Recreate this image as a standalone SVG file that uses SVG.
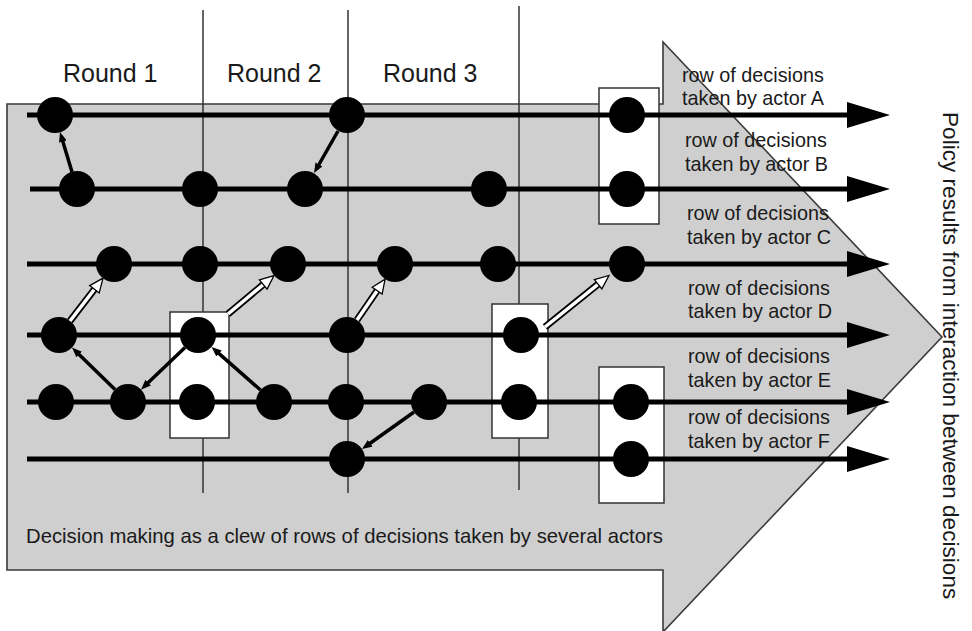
<svg xmlns="http://www.w3.org/2000/svg" width="972" height="631" viewBox="0 0 972 631">
<style>
text{font-family:"Liberation Sans",Arial,sans-serif;fill:#1a1a1a}
.round{font-size:25px}
.lbl{font-size:19.8px}
.vline{stroke:#333;stroke-width:1.5;fill:none}
.box{fill:#fff;stroke:#333;stroke-width:1.5}
.row{stroke:#000;stroke-width:5;fill:none;marker-end:url(#rowHead)}
.dec{fill:#000}
.blk{stroke:#000;stroke-width:3.5;fill:none;marker-end:url(#blkHead)}
.wOut{stroke:#000;stroke-width:7;fill:none}
.wIn{stroke:#fff;stroke-width:3.5;fill:none;marker-end:url(#whtHead)}
</style>
<defs>
<marker id="rowHead" viewBox="0 0 43 26" markerWidth="43" markerHeight="26" refX="3" refY="13" orient="auto" markerUnits="userSpaceOnUse"><path d="M0,0 L43,13 L0,26 Z" fill="#000"/></marker>
<marker id="blkHead" viewBox="0 0 10 8" markerWidth="10" markerHeight="8" refX="3" refY="4" orient="auto" markerUnits="userSpaceOnUse"><path d="M0,0 L10,4 L0,8 Z" fill="#000"/></marker>
<marker id="whtHead" viewBox="0 0 16 14" markerWidth="16" markerHeight="14" refX="6" refY="7" orient="auto" markerUnits="userSpaceOnUse"><path d="M1,1 L15,7 L1,13 Z" fill="#fff" stroke="#000" stroke-width="1.3"/></marker>
</defs>

<g id="big-arrow">
<path d="M7,104 L663,104 L663,42 L942,337 L663,632 L663,570 L7,570 Z" fill="#cfcfcf" stroke="#3a3a3a" stroke-width="1.6"/>
</g>

<g id="round-lines">
<line class="vline" x1="203" y1="10" x2="203" y2="493"/>
<line class="vline" x1="348" y1="10" x2="348" y2="493"/>
<line class="vline" x1="519" y1="6" x2="519" y2="490"/>
</g>

<g id="round-labels">
<text class="round" x="63" y="82">Round 1</text>
<text class="round" x="227" y="82">Round 2</text>
<text class="round" x="383" y="82">Round 3</text>
</g>

<g id="boxes">
<rect id="box-AB" class="box" x="599" y="88" width="60" height="136"/>
<rect id="box-DE-2" class="box" x="170" y="312" width="59" height="126"/>
<rect id="box-DE-3" class="box" x="492" y="304" width="56" height="134"/>
<rect id="box-EF" class="box" x="599" y="367" width="65" height="136"/>
</g>

<g id="rows">
<line class="row" x1="27" y1="115" x2="850" y2="115"/>
<line class="row" x1="30" y1="189" x2="850" y2="189"/>
<line class="row" x1="27" y1="264" x2="850" y2="264"/>
<line class="row" x1="27" y1="335" x2="850" y2="335"/>
<line class="row" x1="27" y1="402" x2="850" y2="402"/>
<line class="row" x1="27" y1="459" x2="850" y2="459"/>
</g>

<g id="row-labels">
<text class="lbl" x="682" y="82">row of decisions</text>
<text class="lbl" x="682" y="105">taken by actor A</text>
<text class="lbl" x="685" y="147">row of decisions</text>
<text class="lbl" x="685" y="171">taken by actor B</text>
<text class="lbl" x="687" y="220">row of decisions</text>
<text class="lbl" x="687" y="244">taken by actor C</text>
<text class="lbl" x="688" y="295">row of decisions</text>
<text class="lbl" x="688" y="318">taken by actor D</text>
<text class="lbl" x="688" y="363">row of decisions</text>
<text class="lbl" x="688" y="387">taken by actor E</text>
<text class="lbl" x="688" y="424">row of decisions</text>
<text class="lbl" x="688" y="448">taken by actor F</text>
</g>

<g id="decisions">
<g id="A1"><circle class="dec" cx="55" cy="115" r="18"/></g>
<g id="A2"><circle class="dec" cx="347" cy="115" r="18"/></g>
<g id="A3"><circle class="dec" cx="627" cy="115" r="18"/></g>
<g id="B1"><circle class="dec" cx="77" cy="189" r="18"/></g>
<g id="B2"><circle class="dec" cx="200" cy="189" r="18"/></g>
<g id="B3"><circle class="dec" cx="305" cy="189" r="18"/></g>
<g id="B4"><circle class="dec" cx="489" cy="189" r="18"/></g>
<g id="B5"><circle class="dec" cx="627" cy="189" r="18"/></g>
<g id="C1"><circle class="dec" cx="114" cy="264" r="18"/></g>
<g id="C2"><circle class="dec" cx="200" cy="264" r="18"/></g>
<g id="C3"><circle class="dec" cx="288" cy="264" r="18"/></g>
<g id="C4"><circle class="dec" cx="395" cy="264" r="18"/></g>
<g id="C5"><circle class="dec" cx="498" cy="264" r="18"/></g>
<g id="C6"><circle class="dec" cx="627" cy="264" r="18"/></g>
<g id="D1"><circle class="dec" cx="59" cy="335" r="18"/></g>
<g id="D2"><circle class="dec" cx="198" cy="335" r="18"/></g>
<g id="D3"><circle class="dec" cx="347" cy="335" r="18"/></g>
<g id="D4"><circle class="dec" cx="521" cy="335" r="18"/></g>
<g id="E1"><circle class="dec" cx="56" cy="402" r="18"/></g>
<g id="E2"><circle class="dec" cx="128" cy="402" r="18"/></g>
<g id="E3"><circle class="dec" cx="197" cy="402" r="18"/></g>
<g id="E4"><circle class="dec" cx="274" cy="402" r="18"/></g>
<g id="E5"><circle class="dec" cx="346" cy="402" r="18"/></g>
<g id="E6"><circle class="dec" cx="429" cy="402" r="18"/></g>
<g id="E7"><circle class="dec" cx="519" cy="402" r="18"/></g>
<g id="E8"><circle class="dec" cx="631" cy="402" r="18"/></g>
<g id="F1"><circle class="dec" cx="347" cy="459" r="18"/></g>
<g id="F2"><circle class="dec" cx="631" cy="459" r="18"/></g>
</g>

<g id="connectors">
<path class="blk" d="M72,172 L62,138.7"/>
<path class="blk" d="M338,131 L317.5,167"/>
<path class="blk" d="M115,389.5 L77,352.4"/>
<path class="blk" d="M185,347.4 L146,384.8"/>
<path class="blk" d="M260.5,390 L216.8,351.6"/>
<path class="blk" d="M414,412 L367.7,445"/>
<path class="wOut" d="M70,321 L97.5,285.3"/>
<path class="wIn" d="M70,321 L97.5,285.3"/>
<path class="wOut" d="M228,314 L267.1,281.3"/>
<path class="wIn" d="M228,314 L267.1,281.3"/>
<path class="wOut" d="M357,320 L380,286.5"/>
<path class="wIn" d="M357,320 L380,286.5"/>
<path class="wOut" d="M545,327 L602,281.1"/>
<path class="wIn" d="M545,327 L602,281.1"/>
</g>

<g id="captions">
<text x="26" y="543" font-size="20.3">Decision making as a clew of rows of decisions taken by several actors</text>
<text transform="translate(943,112) rotate(90)" font-size="22.6">Policy results from interaction between decisions</text>
</g>
</svg>
